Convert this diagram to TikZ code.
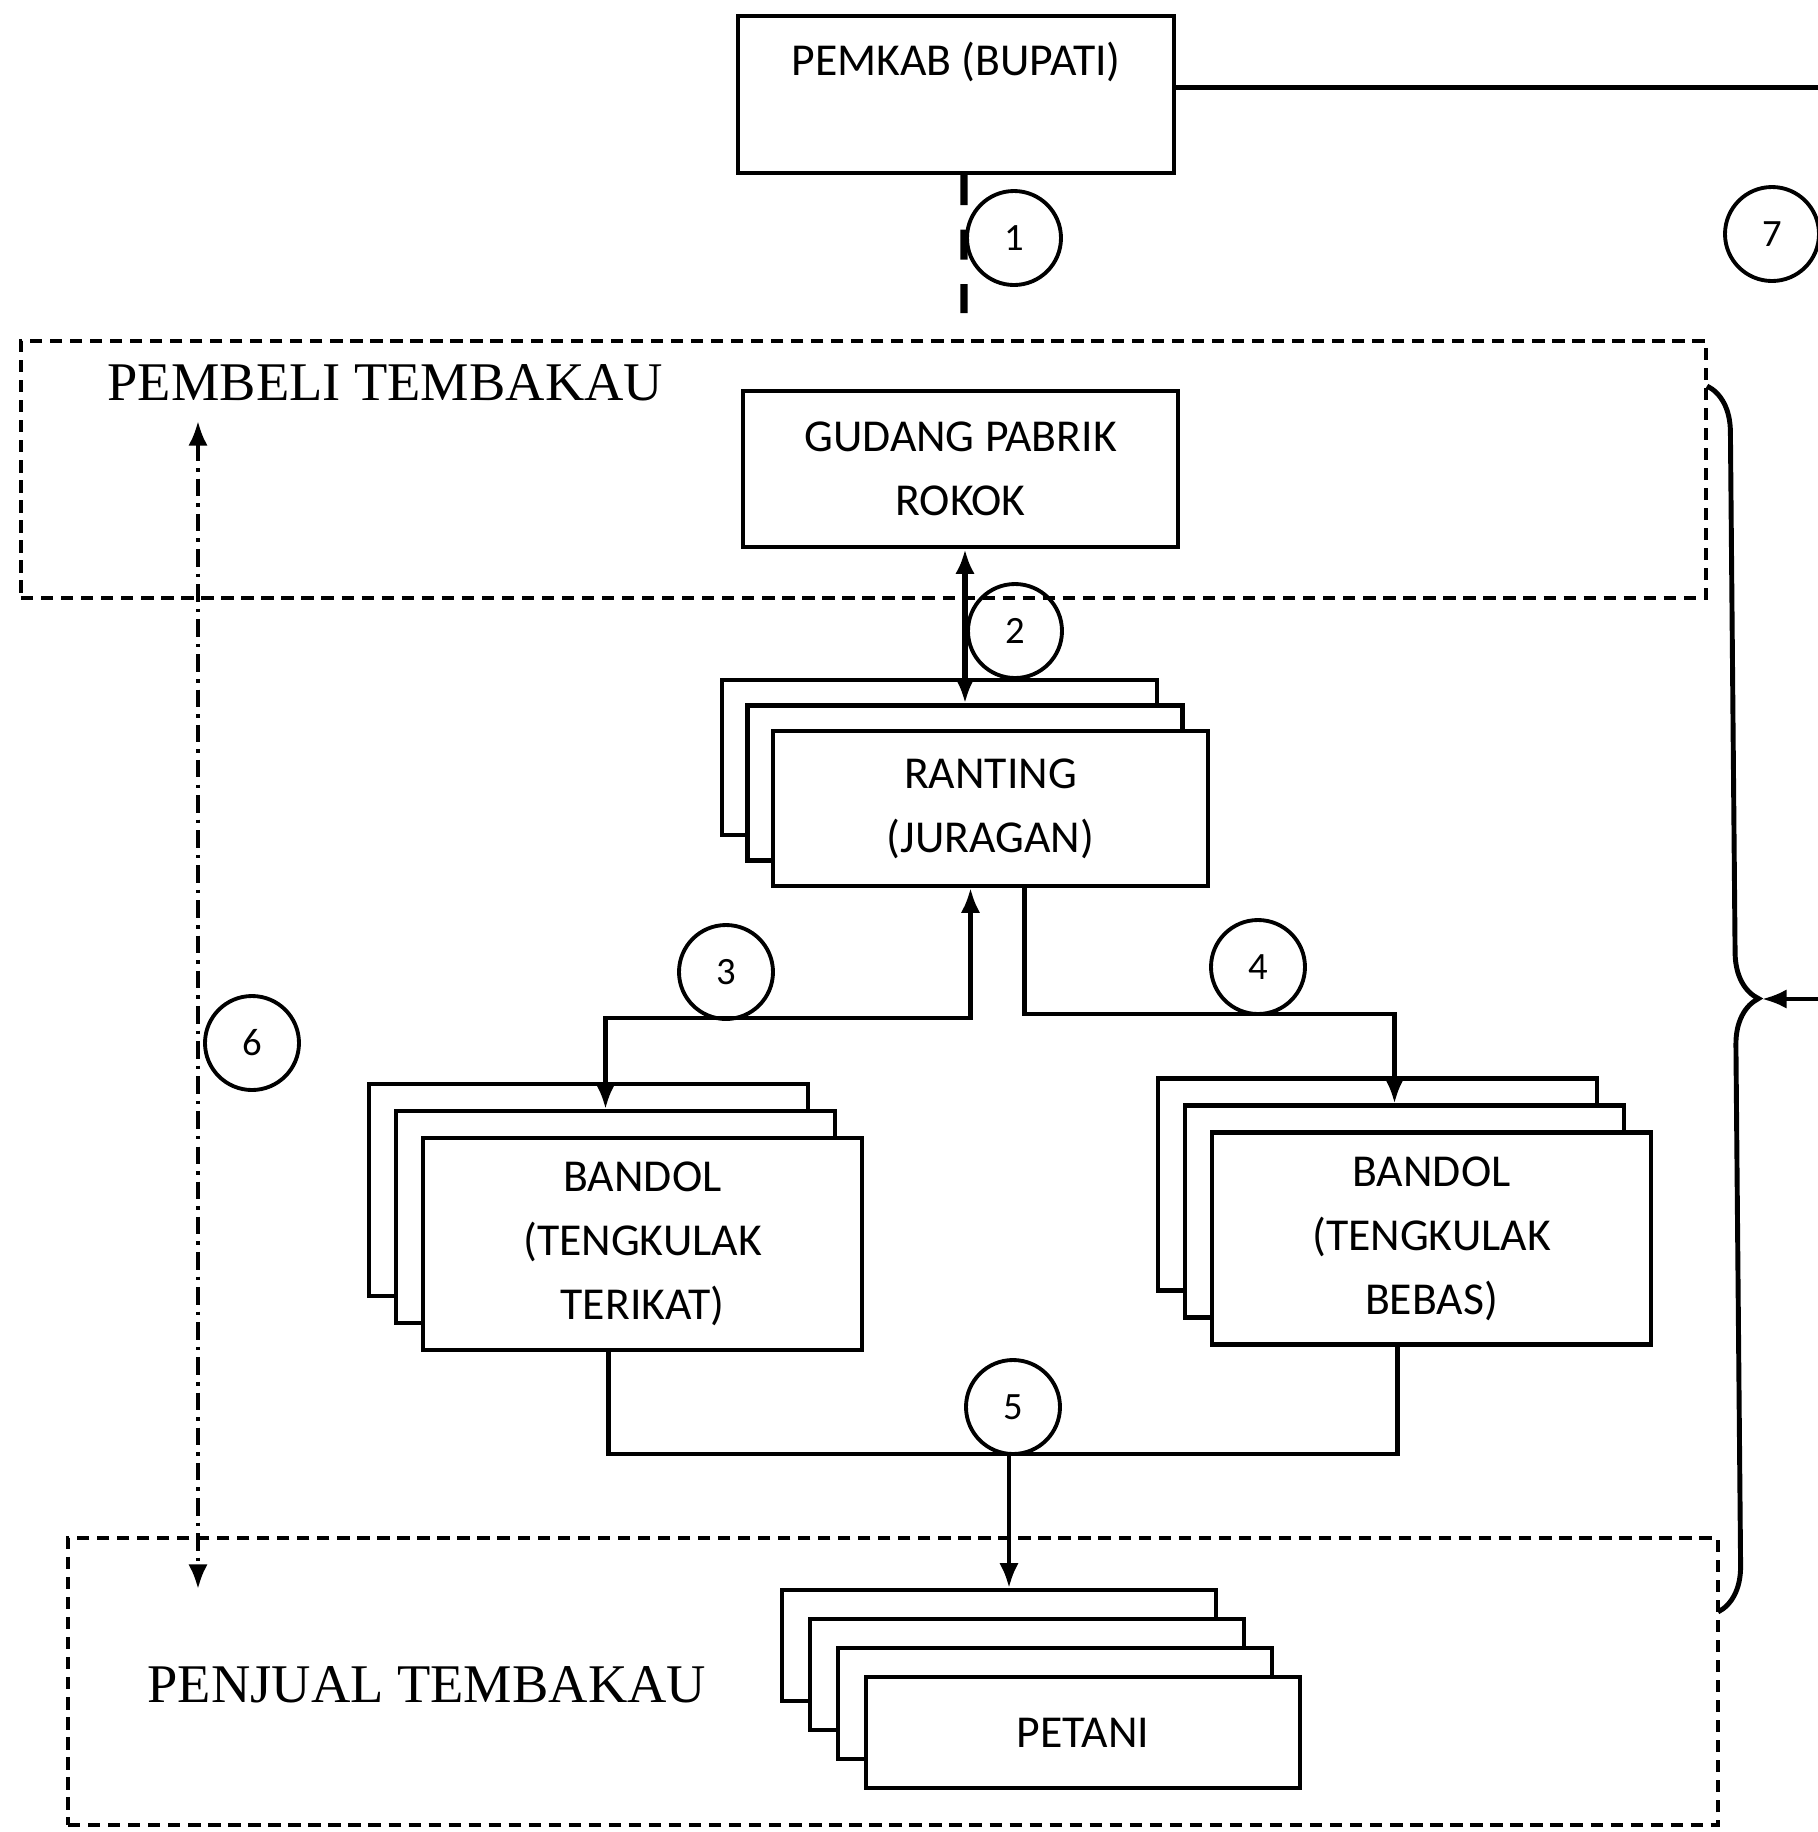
\documentclass[tikz,border=0pt]{standalone}
\usepackage{fontspec}
\setmainfont{Carlito}
\newfontfamily\serifcap{Liberation Serif}
\usetikzlibrary{arrows.meta,decorations.pathreplacing}

\begin{document}
\begin{tikzpicture}[font=\fontsize{13}{18.2}\selectfont,
  box/.style={draw,line width=1.25pt,fill=white,align=center},
  rbox/.style={box,minimum width=4.35cm,minimum height=1.55cm},
  bbox/.style={box,minimum width=4.39cm,minimum height=2.12cm},
  pbox/.style={box,minimum width=4.34cm,minimum height=1.11cm},
  cnt/.style={draw,circle,line width=1.1pt,minimum size=0.94cm,inner sep=0pt,font=\fontsize{11}{13}\selectfont},
  area/.style={draw,line width=1.3pt,dash pattern=on 3.5pt off 2.2pt,inner sep=0pt},
  lbl/.style={font=\serifcap\fontsize{15.5}{18}\selectfont,anchor=west,inner sep=0pt},
  ln/.style={line width=1.15pt},
  >={Latex[length=7pt,width=5.5pt]}]
  \useasboundingbox (0,0) rectangle (18.18,-18.32);
  % buyer and seller areas
  \node[area,minimum width=16.85cm,minimum height=2.57cm] (pembeli) at (8.635,-4.695) {};
  \node[area,minimum width=16.5cm,minimum height=2.87cm] (penjual) at (8.93,-16.815) {};
  \node[lbl] (pembelilbl) at (1.07,-3.83) {PEMBELI TEMBAKAU};
  \node[lbl] (penjuallbl) at (1.47,-16.85) {PENJUAL TEMBAKAU};
  % actors
  \node[box,minimum width=4.36cm,minimum height=1.57cm,
    label={[anchor=center,yshift=-0.48cm]north:PEMKAB (BUPATI)}] (pemkab) at (9.56,-0.945) {};
  \node[rbox,minimum height=1.56cm] (gudang) at (9.605,-4.69) {GUDANG PABRIK\\ROKOK};
  \node[rbox] (ranting1) at (9.395,-7.575) {};
  \node[rbox] (ranting2) at (9.65,-7.83) {};
  \node[rbox] (ranting3) at (9.905,-8.085) {RANTING\\(JURAGAN)};
  \node[bbox] (bandolL1) at (5.885,-11.9) {};
  \node[bbox] (bandolL2) at (6.155,-12.17) {};
  \node[bbox] (bandolL3) at (6.425,-12.44) {BANDOL\\(TENGKULAK\\TERIKAT)};
  \node[bbox] (bandolR1) at (13.775,-11.845) {};
  \node[bbox] (bandolR2) at (14.045,-12.115) {};
  \node[bbox] (bandolR3) at (14.315,-12.385) {BANDOL\\(TENGKULAK\\BEBAS)};
  \node[pbox] (petani1) at (9.99,-16.455) {};
  \node[pbox] (petani2) at (10.27,-16.745) {};
  \node[pbox] (petani3) at (10.55,-17.035) {};
  \node[pbox] (petani4) at (10.83,-17.325) {PETANI};
  % flow numbers
  \node[cnt] (c1) at (10.14,-2.38) {1};
  \node[cnt] (c2) at (10.15,-6.31) {2};
  \node[cnt] (c3) at (7.26,-9.72) {3};
  \node[cnt] (c4) at (12.58,-9.67) {4};
  \node[cnt] (c5) at (10.13,-14.07) {5};
  \node[cnt] (c6) at (2.52,-10.43) {6};
  \node[cnt] (c7) at (17.72,-2.34) {7};
  \coordinate (c1end) at (9.64,-3.13);
  \coordinate (p6top) at (1.98,-4.21);
  \coordinate (p6bot) at (1.98,-15.89);
  \coordinate (bracetop) at (17.07,-3.86);
  \coordinate (bracebot) at (17.18,-16.12);
  \coordinate (bracetip) at (17.62,-9.99);
  % links
  \draw[line width=2.1pt,dash pattern=on 8.5pt off 7pt] ([xshift=0.08cm]pemkab.south) -- (c1end);
  \draw[line width=1.9pt,<->] (gudang.south -| ranting2.north) -- (ranting2.north);
  \draw[ln,<->] ([xshift=-0.2cm]ranting3.south) -- ++(0,-1.3) -| ([xshift=-0.1cm]bandolL2.north);
  \draw[ln,->] ([xshift=0.34cm]ranting3.south) -- ++(0,-1.26) -| ([xshift=-0.1cm]bandolR2.north);
  \draw[ln] ([xshift=-0.34cm]bandolL3.south) -- ++(0,-1.02) coordinate (bj) -| ([xshift=-0.34cm]bandolR3.south);
  \draw[ln,->] ([xshift=0.1cm]bj -| petani1.north) -- ([xshift=0.1cm]petani1.north);
  \draw[ln,dash pattern=on 5pt off 2pt on 1pt off 2pt,<->] (p6top) -- (p6bot);
  \draw[line width=1.4pt,decorate,decoration={brace,amplitude=0.46cm}] (bracetop) -- (bracebot);
  \draw[ln,->] ([yshift=0.07cm]pemkab.east) -- ++(7,0) |- (bracetip);
\end{tikzpicture}
\end{document}
